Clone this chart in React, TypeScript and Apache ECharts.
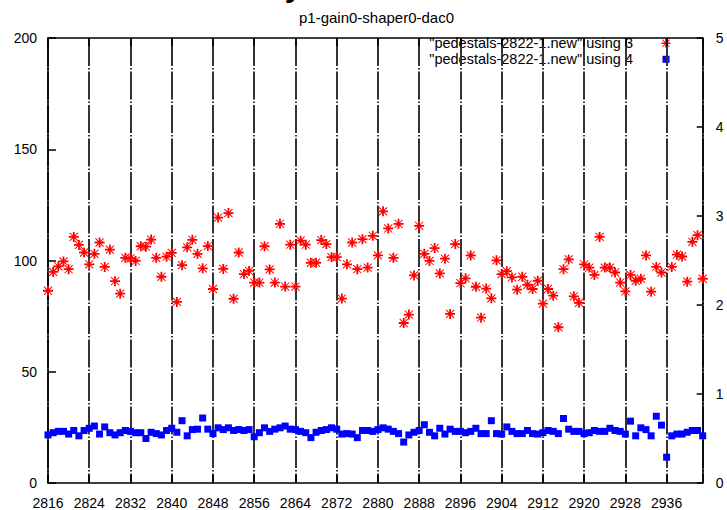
import React, { useEffect, useRef } from "react";
import * as echarts from "echarts";

const TITLE = "p1-gain0-shaper0-dac0";
const HEADING = "Pedestal stability";
const SERIES_NAMES = ['"pedestals-2822-1.new" using 3', '"pedestals-2822-1.new" using 4'];
const FIRST_RUN = 2816;
const LAST_RUN = 2943;
const RUN_STEP = 8;
const Y_LEFT = { min: 0, max: 200, interval: 50 };
const Y_RIGHT = { min: 0, max: 5, interval: 1 };

// column 3 (left axis), one value per run starting at FIRST_RUN
const PEDESTAL: (number | null)[] = [
  86.4, 94.9, 97.4, 99.6, 96.1, 110.6, 107.0, 103.6, 98.3, 103.0,
  108.1, 97.1, 104.9, 90.7, 85.1, 101.2, 101.0, 99.8, 106.4, 106.2,
  109.4, 101.2, 92.7, 101.7, 103.4, 81.4, 97.9, 105.9, 109.3, 103.0,
  96.5, 106.5, 87.2, 119.3, 96.2, 121.3, 82.8, 103.6, 93.9, 95.3,
  90.1, 90.1, 106.4, 96.0, 90.1, 116.5, 88.3, 107.1, 88.3, 108.9,
  107.1, 99.0, 99.0, 109.2, 107.4, 101.5, 101.5, 82.9, 98.3, 108.1,
  96.1, 109.6, 96.8, 111.1, 102.3, 122.1, 114.4, 101.2, 116.5, 71.9,
  75.7, 93.3, 115.6, 103.0, 99.8, 105.6, 94.2, 100.8, 76.0, 107.4,
  89.8, 92.0, 102.3, 88.2, 74.3, 87.4, 83.0, 100.1, 93.9, 95.2,
  92.4, 86.9, 92.7, 89.1, 87.2, 90.9, 80.6, 87.2, 84.2, 70.0,
  96.1, 100.5, 83.9, 81.0, 98.3, 96.8, 93.5, 110.6, 96.8, 96.8,
  94.6, 90.1, 86.1, 93.5, 90.9, 91.8, 102.3, 86.0, 97.1, 94.6,
  null, 97.1, 102.6, 101.8, 90.5, 108.4, 111.4, 91.8,
];

// column 4 (right axis)
const NOISE: number[] = [
  0.54, 0.565, 0.58, 0.58, 0.55, 0.59, 0.53, 0.59, 0.615, 0.64,
  0.55, 0.63, 0.565, 0.54, 0.565, 0.59, 0.58, 0.565, 0.565, 0.5,
  0.57, 0.555, 0.54, 0.59, 0.615, 0.57, 0.7, 0.53, 0.6, 0.605,
  0.73, 0.605, 0.555, 0.62, 0.6, 0.62, 0.59, 0.6, 0.59, 0.6,
  0.52, 0.565, 0.62, 0.58, 0.605, 0.62, 0.64, 0.605, 0.6, 0.58,
  0.565, 0.51, 0.57, 0.59, 0.6, 0.62, 0.605, 0.55, 0.555, 0.55,
  0.51, 0.59, 0.59, 0.58, 0.6, 0.62, 0.605, 0.58, 0.555, 0.46,
  0.54, 0.57, 0.59, 0.655, 0.57, 0.53, 0.615, 0.55, 0.605, 0.58,
  0.58, 0.565, 0.58, 0.615, 0.555, 0.555, 0.7, 0.555, 0.55, 0.63,
  0.58, 0.555, 0.555, 0.59, 0.555, 0.55, 0.565, 0.59, 0.58, 0.555,
  0.725, 0.605, 0.58, 0.58, 0.555, 0.565, 0.59, 0.58, 0.58, 0.615,
  0.59, 0.58, 0.55, 0.695, 0.53, 0.62, 0.6, 0.53, 0.75, 0.65,
  0.29, 0.53, 0.55, 0.55, 0.57, 0.59, 0.59, 0.53,
];

const STAR_PATH =
  "M41 0L59 0L59 100L41 100Z M0 41L100 41L100 59L0 59Z M13 6L94 87L87 94L6 13Z M87 6L94 13L13 94L6 87Z";

echarts.graphic.registerShape("asterisk", echarts.graphic.extendPath(STAR_PATH, {}));

const FONT = "'Liberation Sans', Arial, sans-serif";

export default function App() {
  const ref = useRef<HTMLDivElement>(null);
  useEffect(() => {
    if (!ref.current) return;
    const chart = echarts.init(ref.current, undefined, { renderer: "svg" });
    const pedData = PEDESTAL.map((v, i) => (v == null ? null : [FIRST_RUN + i, v])).filter(
      (d) => d !== null
    );
    const noiseData = NOISE.map((v, i) => [FIRST_RUN + i, v]);
    const axisLine = { show: true, onZero: false, lineStyle: { color: "#000", width: 1.5 } };
    const label = { fontSize: 14, color: "#000", fontFamily: FONT };
    chart.setOption({
      animation: false,
      backgroundColor: "#fff",
      textStyle: { fontFamily: FONT },
      grid: { left: 48, right: 24.3, top: 38, bottom: 17.7, containLabel: false },
      xAxis: [
        {
          type: "value",
          position: "bottom",
          min: FIRST_RUN,
          max: LAST_RUN,
          interval: RUN_STEP,
          axisLine,
          axisTick: { show: true, inside: true, length: 8, lineStyle: { color: "#000", width: 1.5 } },
          axisLabel: { ...label, margin: 13, showMaxLabel: false, formatter: (v: number) => String(v) },
          splitLine: {
            show: true,
            lineStyle: { color: "#333", width: 2, type: [28, 2, 1.5, 2] },
          },
        },
        {
          type: "value",
          position: "top",
          min: FIRST_RUN,
          max: LAST_RUN,
          interval: RUN_STEP,
          axisLine,
          axisTick: { show: true, inside: true, length: 8, lineStyle: { color: "#000", width: 1.5 } },
          axisLabel: { show: false },
          splitLine: { show: false },
        },
      ],
      yAxis: [
        {
          type: "value",
          position: "left",
          ...Y_LEFT,
          axisLine,
          axisTick: { show: true, inside: true, length: 8, lineStyle: { color: "#000", width: 1.5 } },
          axisLabel: { ...label, margin: 11 },
          splitLine: { show: false },
        },
        {
          type: "value",
          position: "right",
          ...Y_RIGHT,
          axisLine,
          axisTick: { show: true, inside: true, length: 6, lineStyle: { color: "#000", width: 1.5 } },
          axisLabel: { ...label, margin: 13 },
          splitLine: { show: false },
        },
      ],
      series: [
        {
          name: SERIES_NAMES[0],
          type: "scatter",
          xAxisIndex: 0,
          yAxisIndex: 0,
          symbol: "path://" + STAR_PATH,
          symbolSize: 10,
          itemStyle: { color: "#ff0000", opacity: 1 },
          data: pedData,
          silent: true,
          z: 3,
        },
        {
          name: SERIES_NAMES[1],
          type: "scatter",
          xAxisIndex: 0,
          yAxisIndex: 1,
          symbol: "rect",
          symbolSize: 7,
          itemStyle: { color: "#0000ff", opacity: 1 },
          data: noiseData,
          silent: true,
          z: 3,
        },
      ],
      graphic: [
        {
          type: "text",
          x: 305,
          y: -19.5,
          silent: true,
          style: { text: HEADING, align: "right", verticalAlign: "middle", fontSize: 40, fill: "#000", fontFamily: FONT },
        },
        {
          type: "text",
          x: 376.5,
          y: 10,
          silent: true,
          style: { text: TITLE, align: "center", verticalAlign: "top", fontSize: 15, fill: "#000", fontFamily: FONT },
        },
        {
          type: "text",
          x: 633,
          y: 43.3,
          silent: true,
          style: { text: SERIES_NAMES[0], align: "right", verticalAlign: "middle", fontSize: 14.5, fill: "#000", fontFamily: FONT },
        },
        {
          type: "text",
          x: 633,
          y: 59.3,
          silent: true,
          style: { text: SERIES_NAMES[1], align: "right", verticalAlign: "middle", fontSize: 14.5, fill: "#000", fontFamily: FONT },
        },
        {
          type: "asterisk",
          x: 661.5,
          y: 38.8,
          scaleX: 0.09,
          scaleY: 0.09,
          silent: true,
          style: { fill: "#ff0000" },
        },
        {
          type: "rect",
          shape: { x: 662.5, y: 55.8, width: 7, height: 7 },
          silent: true,
          style: { fill: "#0000ff" },
        },
      ],
    });
    return () => chart.dispose();
  }, []);
  return (
    <div
      ref={ref}
      style={{ position: "fixed", left: 0, top: 0, width: 727, height: 510, background: "#fff" }}
    />
  );
}
